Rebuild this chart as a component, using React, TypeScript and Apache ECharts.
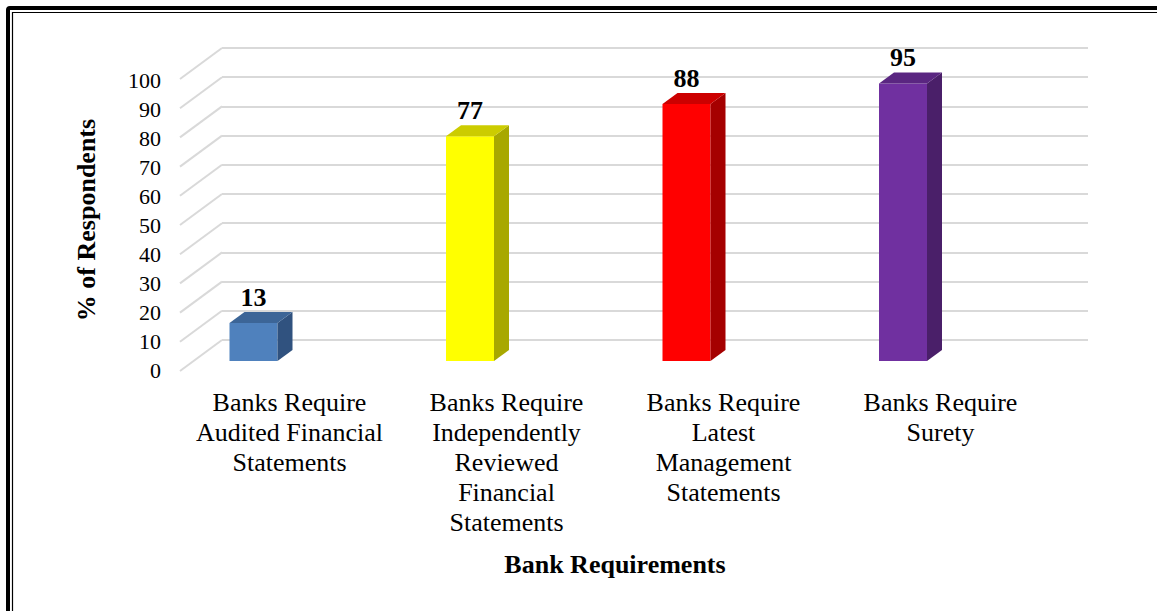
import React, { useEffect, useRef } from 'react';
import * as echarts from 'echarts';

const categories = [
  'Banks Require\nAudited Financial\nStatements',
  'Banks Require\nIndependently\nReviewed\nFinancial\nStatements',
  'Banks Require\nLatest\nManagement\nStatements',
  'Banks Require\nSurety',
];
const values = [13, 77, 88, 95];
const frontColors = ['#4F81BD', '#FFFF00', '#FF0000', '#7030A0'];
const topColors = ['#3C6597', '#CCCC00', '#CC0000', '#5A2681'];
const sideColors = ['#30527F', '#A8A800', '#A50000', '#4A1F69'];
const yTicks = [0, 10, 20, 30, 40, 50, 60, 70, 80, 90, 100];
const xAxisTitle = 'Bank Requirements';
const yAxisTitle = '% of Respondents';

const FONT = '"Liberation Serif", "Times New Roman", serif';

export default function App() {
  const ref = useRef<HTMLDivElement>(null);
  useEffect(() => {
    if (!ref.current) return;
    const chart = echarts.init(ref.current, null, { renderer: 'svg' });
    const option: any = {
      animation: false,
      backgroundColor: '#ffffff',
      graphic: [
        {
          type: 'rect',
          silent: true,
          shape: { x: 8, y: 8, width: 1400, height: 900, r: 2 },
          style: { fill: 'none', stroke: '#000', lineWidth: 4 },
        },
        {
          type: 'rect',
          silent: true,
          shape: { x: 12.5, y: 12.5, width: 1400, height: 900 },
          style: { fill: 'none', stroke: '#000', lineWidth: 1.2 },
        },
      ],
      grid: [
        { left: 181, right: 108, top: 80, bottom: 241, outerBoundsMode: 'none' },
        { left: 145.25, right: 145.75, top: 69, bottom: 250, outerBoundsMode: 'none' },
        { left: 222, right: 69, top: 48, bottom: 271, outerBoundsMode: 'none' },
      ],
      xAxis: [
        {
          gridIndex: 0,
          type: 'category',
          data: categories,
          axisLine: { show: false },
          axisTick: { show: false },
          splitLine: { show: false },
          axisLabel: {
            interval: 0,
            margin: 17,
            fontFamily: FONT,
            fontSize: 26,
            lineHeight: 30,
            color: '#000',
          },
          name: xAxisTitle,
          nameLocation: 'middle',
          nameGap: 179,
          nameTextStyle: { fontFamily: FONT, fontSize: 26, fontWeight: 'bold', color: '#000', lineHeight: 30 },
        },
        { gridIndex: 1, type: 'category', data: categories, show: false },
        { gridIndex: 2, type: 'value', min: 0, max: 1, show: false },
      ],
      yAxis: [
        {
          gridIndex: 0,
          type: 'value',
          min: 0,
          max: 100,
          interval: 10,
          axisLine: { show: false },
          axisTick: { show: false },
          splitLine: { show: false },
          axisLabel: { margin: 20, fontFamily: FONT, fontSize: 22, color: '#000' },
          name: yAxisTitle,
          nameLocation: 'middle',
          nameRotate: 90,
          nameGap: 80,
          nameTextStyle: {
            fontFamily: FONT,
            fontSize: 26,
            fontWeight: 'bold',
            color: '#000',
            lineHeight: 30,
            padding: [0, 0, 0, 10],
          },
        },
        { gridIndex: 1, type: 'value', min: 0, max: 100, show: false },
        {
          gridIndex: 2,
          type: 'value',
          min: 0,
          max: 100,
          interval: 10,
          axisLine: { show: false },
          axisTick: { show: false },
          axisLabel: { show: false },
          splitLine: { show: true, lineStyle: { color: '#d9d9d9', width: 2 } },
        },
      ],
      series: [
        {
          type: 'custom',
          xAxisIndex: 2,
          yAxisIndex: 2,
          silent: true,
          z: 1,
          data: yTicks.map((v) => [0, v]),
          renderItem: (params: any, api: any) => {
            const p = api.coord([0, api.value(1)]);
            return {
              type: 'line',
              shape: { x1: p[0] - 42, y1: p[1] + 31, x2: p[0], y2: p[1] },
              style: { stroke: '#d9d9d9', lineWidth: 2 },
            };
          },
        },
        {
          type: 'custom',
          xAxisIndex: 1,
          yAxisIndex: 1,
          z: 3,
          data: values.map((v, i) => [i, v]),
          renderItem: (params: any, api: any) => {
            const i = api.value(0);
            const v = api.value(1);
            const top = api.coord([i, v]);
            const base = api.coord([i, 0]);
            const w = 48;
            const dx = 15;
            const dy = 11;
            const x1 = top[0] - w / 2;
            const x2 = top[0] + w / 2;
            return {
              type: 'group',
              children: [
                {
                  type: 'rect',
                  shape: { x: x1, y: top[1], width: w, height: base[1] - top[1] },
                  style: { fill: frontColors[i] },
                },
                {
                  type: 'polygon',
                  shape: { points: [[x2, top[1]], [x2 + dx, top[1] - dy], [x2 + dx, base[1] - dy], [x2, base[1]]] },
                  style: { fill: sideColors[i] },
                },
                {
                  type: 'polygon',
                  shape: { points: [[x1, top[1]], [x1 + dx, top[1] - dy], [x2 + dx, top[1] - dy], [x2, top[1]]] },
                  style: { fill: topColors[i] },
                },
                {
                  type: 'text',
                  x: top[0],
                  y: top[1] - dy - 2,
                  style: {
                    text: String(v),
                    fontFamily: FONT,
                    fontSize: 26,
                    fontWeight: 'bold',
                    fill: '#000',
                    align: 'center',
                    verticalAlign: 'bottom',
                  },
                },
              ],
            };
          },
        },
      ],
    };
    chart.setOption(option);
    return () => chart.dispose();
  }, []);
  return (
    <div
      ref={ref}
      style={{ position: 'fixed', left: 0, top: 0, width: 1157, height: 611, background: '#fff' }}
    />
  );
}
